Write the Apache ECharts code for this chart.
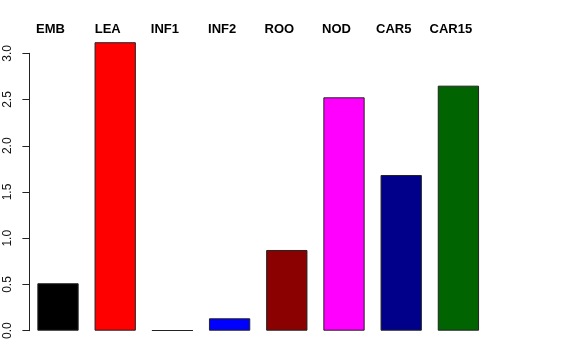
<!DOCTYPE html>
<html>
<head>
<meta charset="utf-8">
<script src="https://cdn.jsdelivr.net/npm/echarts@6/dist/echarts.min.js"></script>
<style>html,body{margin:0;padding:0;background:#fff}#c{width:576px;height:360px}</style>
</head>
<body>
<div id="c"></div>
<script>
var categories = ['EMB', 'LEA', 'INF1', 'INF2', 'ROO', 'NOD', 'CAR5', 'CAR15'];
var values = [0.513, 3.12, 0.004, 0.134, 0.873, 2.524, 1.684, 2.65];
var barColors = ['#000000', '#FF0000', '#00CD00', '#0000FF', '#8B0000', '#FF00FF', '#00008B', '#006400'];
var yTicks = [0, 0.5, 1.0, 1.5, 2.0, 2.5, 3.0];

var chart = echarts.init(document.getElementById('c'), null, {renderer: 'canvas'});
var font = '"Liberation Sans", Arial, Helvetica, sans-serif';
chart.setOption({
  animation: false,
  backgroundColor: '#ffffff',
  grid: {left: 29.4, right: 89, top: 53.3, bottom: 29.3, containLabel: false},
  xAxis: {
    type: 'category',
    position: 'top',
    data: categories,
    boundaryGap: true,
    axisLine: {show: false},
    axisTick: {show: false},
    splitLine: {show: false},
    axisLabel: {
      fontFamily: font, fontSize: 13, fontWeight: 'bold', color: '#000',
      margin: 17, padding: [0, 15, 0, 0], interval: 0
    }
  },
  yAxis: {
    type: 'value',
    min: yTicks[0],
    max: yTicks[yTicks.length - 1],
    interval: 0.5,
    splitLine: {show: false},
    axisLine: {show: true, lineStyle: {color: '#222', width: 1}},
    axisTick: {show: true, length: 7, lineStyle: {color: '#222', width: 1}},
    axisLabel: {
      rotate: 90, fontFamily: font, fontSize: 12, color: '#111', margin: 16,
      formatter: function (v) { return v.toFixed(1); }
    }
  },
  series: [{
    type: 'bar',
    clip: false,
    barWidth: 41.3,
    data: values.map(function (v, i) {
      return {value: v, itemStyle: {color: barColors[i]}};
    }),
    itemStyle: {borderColor: '#222', borderWidth: 1}
  }]
});
</script>
</body>
</html>
